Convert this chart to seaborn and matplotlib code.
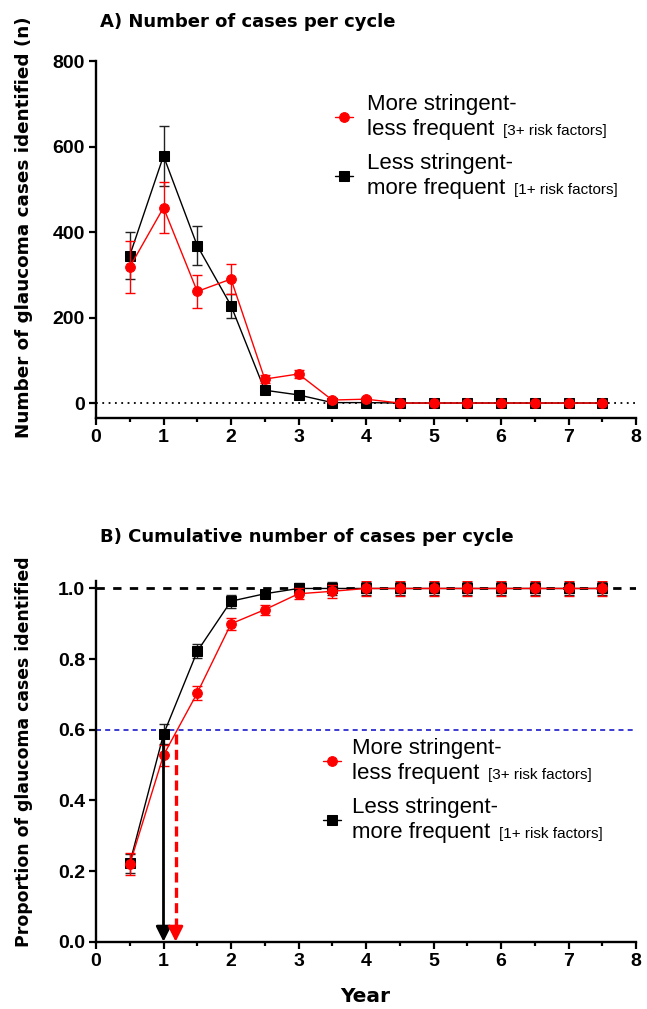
import numpy as np
import pandas as pd
import matplotlib
matplotlib.use("Agg")
import matplotlib.pyplot as plt
import seaborn as sns
from matplotlib.ticker import MultipleLocator, FormatStrFormatter

sns.set_style("ticks")
plt.rcParams['font.family'] = ['Liberation Sans', 'DejaVu Sans']
for k in ("text.color", "axes.labelcolor", "xtick.color", "ytick.color", "axes.edgecolor"):
    plt.rcParams[k] = "black"

# ---------------- data ----------------
years = [0.5, 1.0, 1.5, 2.0, 2.5, 3.0, 3.5, 4.0, 4.5, 5.0, 5.5, 6.0, 6.5, 7.0, 7.5]

# Panel A: number of cases per cycle
cases_more_stringent = [318, 457, 261, 290, 56, 68, 7, 9, 0, 0, 0, 0, 0, 0, 0]
cases_more_stringent_err = [60, 60, 38, 35, 10, 10, 4, 4, 0, 0, 0, 0, 0, 0, 0]
cases_less_stringent = [345, 578, 368, 228, 30, 19, 1, 1, 0, 0, 0, 0, 0, 0, 0]
cases_less_stringent_err = [56, 70, 46, 28, 4, 3, 1, 1, 0, 0, 0, 0, 0, 0, 0]

# Panel B: cumulative proportion
prop_more_stringent = [0.219, 0.528, 0.704, 0.900, 0.940, 0.985, 0.992, 1.0, 1.0, 1.0, 1.0, 1.0, 1.0, 1.0, 1.0]
prop_more_stringent_err = [0.031, 0.030, 0.019, 0.017, 0.014, 0.016, 0.018, 0.02, 0.02, 0.02, 0.02, 0.02, 0.02, 0.02, 0.02]
prop_less_stringent = [0.222, 0.587, 0.822, 0.964, 0.985, 1.0, 1.0, 1.0, 1.0, 1.0, 1.0, 1.0, 1.0, 1.0, 1.0]
prop_less_stringent_err = [0.027, 0.028, 0.020, 0.018, 0.010, 0.015, 0.018, 0.018, 0.018, 0.018, 0.018, 0.018, 0.018, 0.018, 0.018]

label_more = "More stringent-\nless frequent"
label_less = "Less stringent-\nmore frequent"
label_more_small = "[3+ risk factors]"
label_less_small = "[1+ risk factors]"

threshold = 0.6
year_to_60_less = 1.0
year_to_60_more = 1.18

RED = "#ff0000"
BLACK = "#000000"
BOLD_FONT = ["DejaVu Sans"]

W, H = 647, 1009
fig = plt.figure(figsize=(W / 100, H / 100), dpi=100)
axA = fig.add_axes([96 / W, 1 - 418 / H, 540 / W, 357 / H])
axB = fig.add_axes([96 / W, 1 - 941.7 / H, 540 / W, 361 / H])

dfA = pd.DataFrame({"year": years, "more": cases_more_stringent, "less": cases_less_stringent})
dfB = pd.DataFrame({"year": years, "more": prop_more_stringent, "less": prop_less_stringent})


def draw_series(ax, df, err_more, err_less):
    ax.errorbar(df["year"], df["less"], yerr=err_less, fmt="none", ecolor="#222222",
                elinewidth=1.0, capsize=3.5, capthick=1.0, zorder=3)
    sns.lineplot(data=df, x="year", y="less", ax=ax, color=BLACK, marker="s",
                 markersize=6.5, markeredgecolor=BLACK, linewidth=1.0, label=label_less, zorder=4)
    ax.errorbar(df["year"], df["more"], yerr=err_more, fmt="none", ecolor=RED,
                elinewidth=1.0, capsize=3.5, capthick=1.0, zorder=5)
    sns.lineplot(data=df, x="year", y="more", ax=ax, color=RED, marker="o",
                 markersize=7, markeredgecolor=RED, linewidth=1.0, label=label_more, zorder=6)


draw_series(axA, dfA, cases_more_stringent_err, cases_less_stringent_err)
draw_series(axB, dfB, prop_more_stringent_err, prop_less_stringent_err)

# reference lines
axA.axhline(0, color="black", linestyle=(0, (1, 2.5)), linewidth=1.3, zorder=1)
axB.axhline(1.0, color="black", linestyle=(0, (3, 3)), linewidth=2.0, zorder=1)
axB.axhline(threshold, color="#1a1acc", linestyle=(0, (3, 2.5)), linewidth=1.2, zorder=1)

# arrows
axB.annotate("", xy=(year_to_60_less, 0.0), xytext=(year_to_60_less, 0.587),
             arrowprops=dict(arrowstyle="-|>,head_length=0.9,head_width=0.45", color=BLACK,
                             lw=2.0, shrinkA=0, shrinkB=0), zorder=7)
axB.plot([year_to_60_more, year_to_60_more], [0.04, threshold], color=RED,
         linestyle=(0, (3, 1.6)), linewidth=2.4, zorder=7)
axB.annotate("", xy=(year_to_60_more, 0.0), xytext=(year_to_60_more, 0.045),
             arrowprops=dict(arrowstyle="-|>,head_length=0.9,head_width=0.45", color=RED,
                             lw=2.0, shrinkA=0, shrinkB=0), zorder=7)

# axes formatting
axA.set_ylim(-35, 800)
axA.set_yticks([0, 200, 400, 600, 800])
axB.set_ylim(0, 1.022)
axB.set_yticks([0.0, 0.2, 0.4, 0.6, 0.8, 1.0])
axB.yaxis.set_major_formatter(FormatStrFormatter("%.1f"))

for ax in (axA, axB):
    ax.set_xlim(0, 8)
    ax.xaxis.set_major_locator(MultipleLocator(1))
    ax.xaxis.set_minor_locator(MultipleLocator(0.5))
    for s in ("top", "right"):
        ax.spines[s].set_visible(False)
    for s in ("left", "bottom"):
        ax.spines[s].set_linewidth(1.7)
    ax.tick_params(axis="both", which="major", direction="out", length=5, width=1.6,
                   labelsize=14, pad=3)
    ax.tick_params(axis="x", which="minor", direction="out", length=3, width=1.6)
    for lbl in ax.get_xticklabels() + ax.get_yticklabels():
        lbl.set_fontweight("bold")
    ax.set_xlabel("")

axA.set_ylabel("Number of glaucoma cases identified (n)", fontsize=13.2, fontweight="bold",
               family=BOLD_FONT)
axA.yaxis.set_label_coords(-0.117, 0.535)
axB.set_ylabel("Proportion of glaucoma cases identified", fontsize=12.4, fontweight="bold",
               family=BOLD_FONT)
axB.yaxis.set_label_coords(-0.117, 0.525)
axB.set_xlabel("Year", fontsize=14.5, fontweight="bold", family=BOLD_FONT)
axB.xaxis.set_label_coords(0.498, -0.125)

fig.text(100 / W, 1 - 22 / H, "A) Number of cases per cycle", fontsize=13.0, fontweight="bold",
         ha="left", va="center", family=BOLD_FONT)
fig.text(100 / W, 1 - 537 / H, "B) Cumulative number of cases per cycle", fontsize=13.0,
         fontweight="bold", ha="left", va="center", family=BOLD_FONT)

# legends
LEG_FS = 16
leg_specs = [
    (axA, ((335 - 96) / 540, (418 - 94) / 357), 0.63),
    (axB, ((323 - 96) / 540, (941.7 - 738) / 361), 0.5),
]
legends = []
for ax, anchor, pad in leg_specs:
    handles, labels = ax.get_legend_handles_labels()
    if ax.get_legend() is not None:
        ax.get_legend().remove()
    order = [labels.index(label_more), labels.index(label_less)]
    leg = ax.legend([handles[i] for i in order], [labels[i] for i in order],
                    loc="upper left", bbox_to_anchor=anchor, frameon=False, fontsize=LEG_FS,
                    handlelength=0.82, handletextpad=pad, labelspacing=0.58,
                    borderpad=0, borderaxespad=0)
    for t in leg.get_texts():
        t.set_linespacing(1.25)
    legends.append(leg)

fig.canvas.draw()
renderer = fig.canvas.get_renderer()
inv = fig.transFigure.inverted()
for leg in legends:
    for txt, small in zip(leg.get_texts(), [label_more_small, label_less_small]):
        bb = txt.get_window_extent(renderer)
        last_line = txt.get_text().split("\n")[-1]
        tmp = fig.text(0, 0, last_line + " ", fontsize=LEG_FS)
        w = tmp.get_window_extent(renderer).width
        tmp.remove()
        fs_px = LEG_FS * 100 / 72
        x_disp = bb.x0 + w + 2
        y_disp = bb.y0 + 0.22 * fs_px
        xf, yf = inv.transform((x_disp, y_disp))
        fig.text(xf, yf, small, fontsize=11, ha="left", va="baseline")

fig.savefig("out.png", dpi=100)
